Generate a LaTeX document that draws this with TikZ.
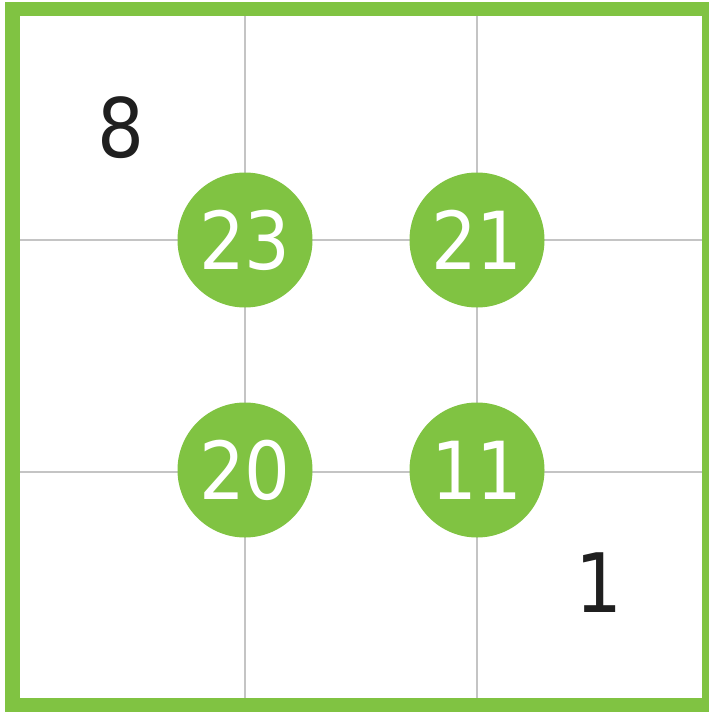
\documentclass[tikz,border=0pt]{standalone}
\usepackage{fontspec}
\setmainfont{DejaVu Sans}
\newfontfamily\digitfont[FakeStretch=0.9]{DejaVu Sans}
\usepackage{xcolor}
\usepackage{tikz}
\usetikzlibrary{positioning,calc}

\definecolor{leaf}{HTML}{80C342}
\definecolor{gridgray}{HTML}{C4C4C4}

\begin{document}
\begin{tikzpicture}[
    x=1pt, y=-1pt,
    cell/.style={draw=gridgray, line width=1.5pt},
    dot/.style={circle, fill=leaf, minimum size=135pt, inner sep=0pt, text=white, font=\digitfont\fontsize{80}{82}\selectfont},
    num/.style={text=black!88, inner sep=0pt, font=\digitfont\fontsize{82}{84}\selectfont}
]
    \useasboundingbox (0,0) rectangle (709,712);

    % grid lines
    \draw [cell] (20,240) -- (702,240);
    \draw [cell] (20,472) -- (702,472);
    \draw [cell] (245,16) -- (245,698);
    \draw [cell] (477,16) -- (477,698);

    % frame
    \draw [draw=leaf, line width=14.5pt] (12.5,9) rectangle (709,705);

    \node [dot] (c23) at (245,240) {23};
    \node [dot] (c21) at (477,240) {21};
    \node [dot] (c20) at (245,470) {20};
    \node [dot] (c11) at (477,470) {11};

    \node [num] (n8) at (121,128) {8};
    \node [num] (n1) at (599,583) {1};
\end{tikzpicture}
\end{document}
